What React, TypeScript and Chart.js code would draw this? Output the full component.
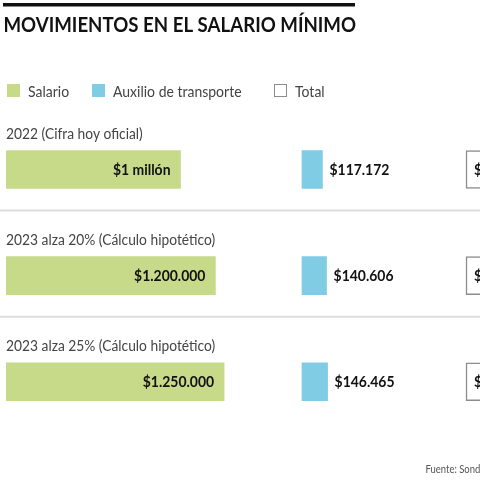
import React, { useEffect, useRef } from "react";
import { Chart, registerables } from "chart.js";

Chart.register(...registerables);

// ---- data ----
const categories = [
  "2022 (Cifra hoy oficial)",
  "2023 alza 20% (Cálculo hipotético)",
  "2023 alza 25% (Cálculo hipotético)",
];
const salario = [1000000, 1200000, 1250000];
const auxilio = [117172, 140606, 146465];
const total = [1117172, 1340606, 1396465];

const seriesLabels = ["Salario", "Auxilio de transporte", "Total"];
const titleText = "MOVIMIENTOS EN EL SALARIO MÍNIMO";
const footerText = "Fuente: Sond";

// ---- look ----
const W = 480;
const H = 480;
const GREEN = "#c6da8a";
const BLUE = "#80cce4";
const BOX_BORDER = "#8c8c8c";
const FONT = "Lato, 'Open Sans', sans-serif";

// horizontal layout: three columns share one pixel-per-peso ratio
const PAD_LEFT = 6;
const PX_PER_UNIT = 174.5 / 1000000;
const PLOT_W = W - PAD_LEFT;
const SPAN = PLOT_W / PX_PER_UNIT;
const AUX_ORIGIN = 302;
const TOTAL_ORIGIN = 466;
const LEGEND_X = [7, 92, 274];

const fmt = (v: number) => {
  if (v === 1000000) return "$1 millón";
  return "$" + Math.round(v).toString().replace(/\B(?=(\d{3})+(?!\d))/g, ".");
};

function drawText(
  ctx: CanvasRenderingContext2D,
  text: string,
  x: number,
  y: number,
  font: string,
  color: string,
  sx: number,
  align: "left" | "right" = "left"
) {
  ctx.save();
  ctx.font = font;
  ctx.fillStyle = color;
  ctx.textBaseline = "alphabetic";
  ctx.textAlign = "left";
  const w = ctx.measureText(text).width * sx;
  const left = align === "right" ? x - w : x;
  ctx.translate(left, y);
  ctx.scale(sx, 1);
  ctx.fillText(text, 0, 0);
  ctx.restore();
}

const decorPlugin = {
  id: "decor",
  afterDatasetsDraw(chart: any) {
    const ctx: CanvasRenderingContext2D = chart.ctx;
    const yScale = chart.scales.y;

    // heading rule + title
    ctx.save();
    ctx.fillStyle = "#111";
    ctx.fillRect(3, 3, 352, 3.5);
    ctx.restore();
    drawText(ctx, titleText, 3.5, 31.5, `700 21px ${FONT}`, "#111", 0.888);

    // legend
    chart.data.datasets.forEach((ds: any, i: number) => {
      const x = LEGEND_X[i];
      ctx.save();
      ctx.fillStyle = ds.backgroundColor;
      ctx.fillRect(x, 84, 13, 13);
      if (ds.borderWidth) {
        ctx.strokeStyle = ds.borderColor;
        ctx.lineWidth = 1;
        ctx.strokeRect(x + 0.5, 84.5, 12, 12);
      }
      ctx.restore();
      drawText(ctx, ds.label, x + 21, 96.5, `400 16px ${FONT}`, "#444", 0.875);
    });

    // row captions and separators
    categories.forEach((cat, i) => {
      const cy = yScale.getPixelForValue(i);
      drawText(ctx, cat, 6, cy - 31, `400 15.5px ${FONT}`, "#444", 0.89);
      if (i < categories.length - 1) {
        ctx.save();
        ctx.strokeStyle = "#dedede";
        ctx.lineWidth = 2;
        ctx.beginPath();
        ctx.moveTo(0, cy + 41);
        ctx.lineTo(W, cy + 41);
        ctx.stroke();
        ctx.restore();
      }
    });

    // value labels
    const valueFont = `700 15px ${FONT}`;
    chart.data.datasets.forEach((ds: any, di: number) => {
      const meta = chart.getDatasetMeta(di);
      meta.data.forEach((bar: any, j: number) => {
        const v = ds.data[j];
        const ty = bar.y + 5.5;
        if (di === 0) drawText(ctx, fmt(v), bar.x - 10, ty, valueFont, "#111", 0.93, "right");
        else if (di === 1) drawText(ctx, fmt(v), bar.x + 7, ty, valueFont, "#111", 0.93);
        else drawText(ctx, fmt(v), bar.base + 8, ty, valueFont, "#111", 0.93);
      });
    });

    // source
    drawText(ctx, footerText, 425.5, 473, `400 12px ${FONT}`, "#555", 0.79);
  },
};

export default function App() {
  const ref = useRef<HTMLCanvasElement>(null);

  useEffect(() => {
    if (!ref.current) return;
    const common = { grouped: false, barThickness: 38, borderSkipped: false as const };
    const chart = new Chart(ref.current, {
      type: "bar",
      data: {
        labels: categories,
        datasets: [
          { label: seriesLabels[0], data: salario, backgroundColor: GREEN, borderWidth: 0, xAxisID: "x", ...common },
          { label: seriesLabels[1], data: auxilio, backgroundColor: BLUE, borderWidth: 0, xAxisID: "xAux", ...common },
          {
            label: seriesLabels[2],
            data: total,
            backgroundColor: "#ffffff",
            borderColor: BOX_BORDER,
            borderWidth: 1.5,
            xAxisID: "xTot",
            ...common,
          },
        ] as any,
      },
      options: {
        indexAxis: "y",
        responsive: false,
        animation: false,
        events: [],
        layout: { padding: { left: PAD_LEFT, right: 0, top: 116.5, bottom: 45.25 } },
        plugins: { legend: { display: false }, tooltip: { enabled: false }, title: { display: false } },
        scales: {
          y: { type: "category", display: false, offset: true, grid: { display: false } },
          x: { type: "linear", axis: "x", display: false, min: 0, max: SPAN },
          xAux: {
            type: "linear",
            axis: "x",
            display: false,
            min: -(AUX_ORIGIN - PAD_LEFT) / PX_PER_UNIT,
            max: -(AUX_ORIGIN - PAD_LEFT) / PX_PER_UNIT + SPAN,
          },
          xTot: {
            type: "linear",
            axis: "x",
            display: false,
            min: -(TOTAL_ORIGIN - PAD_LEFT) / PX_PER_UNIT,
            max: -(TOTAL_ORIGIN - PAD_LEFT) / PX_PER_UNIT + SPAN,
          },
        } as any,
      },
      plugins: [decorPlugin],
    });
    return () => chart.destroy();
  }, []);

  return (
    <div style={{ position: "fixed", left: 0, top: 0, width: W, height: H, background: "#fff" }}>
      <canvas ref={ref} width={W} height={H} style={{ display: "block", width: W, height: H }} />
    </div>
  );
}
